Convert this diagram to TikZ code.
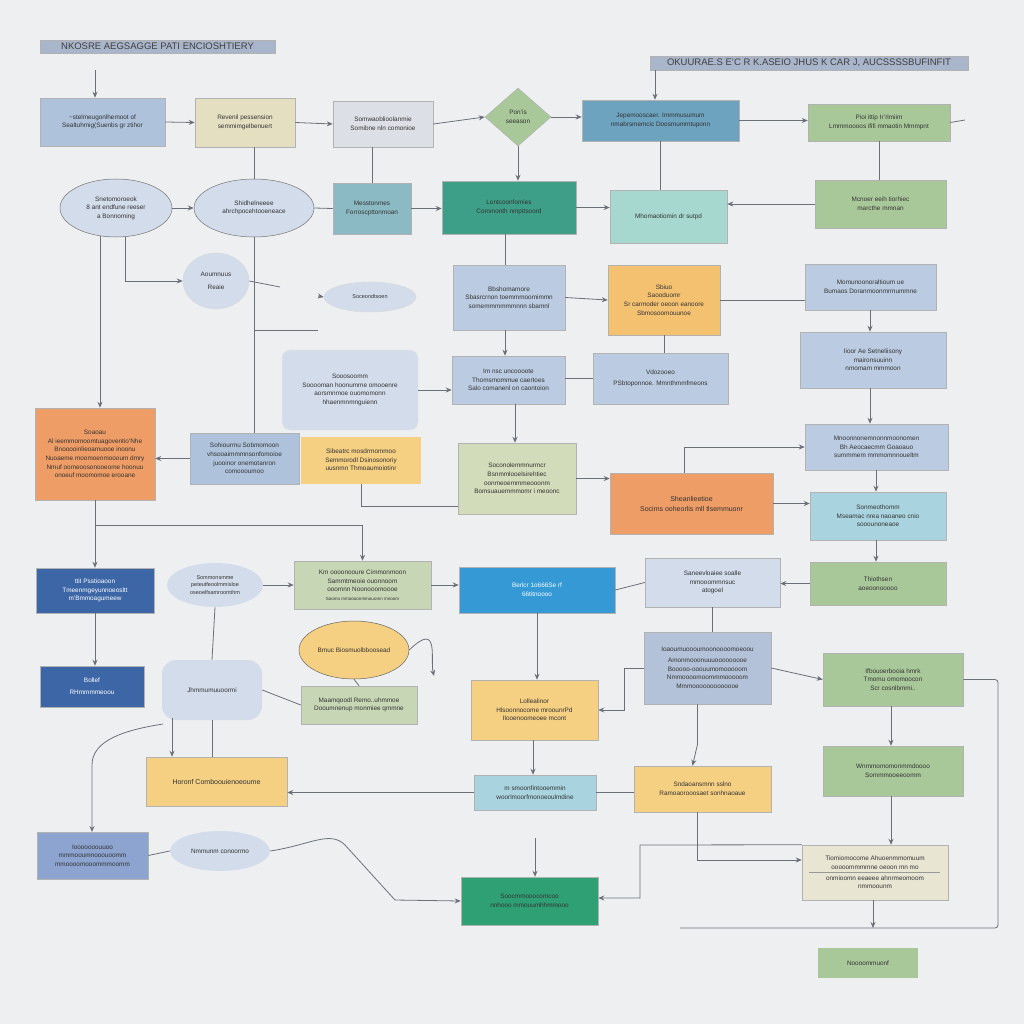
\documentclass[tikz,border=0pt]{standalone}
\usepackage{fontspec}
\setmainfont{Liberation Sans}
\usetikzlibrary{shapes.geometric,arrows.meta,calc}
\definecolor{bgc}{HTML}{EEEFF1}
\definecolor{titlec}{HTML}{A8B5CB}
\definecolor{bgrey}{HTML}{AEC2DC}
\definecolor{beige}{HTML}{E5DFC2}
\definecolor{lgrey}{HTML}{DCDFE5}
\definecolor{sage}{HTML}{A9C89A}
\definecolor{steel}{HTML}{6DA3BF}
\definecolor{tgrey}{HTML}{8BBAC4}
\definecolor{teal2}{HTML}{3E9F88}
\definecolor{aqua}{HTML}{A6D8D0}
\definecolor{lblue}{HTML}{BBCBE1}
\definecolor{oyel}{HTML}{F4C171}
\definecolor{orng}{HTML}{EF9D66}
\definecolor{yel}{HTML}{F5CF82}
\definecolor{dblue}{HTML}{3D66A6}
\definecolor{bblue}{HTML}{3499D5}
\definecolor{laqua}{HTML}{A9D4DF}
\definecolor{green2}{HTML}{2FA074}
\definecolor{peri}{HTML}{8CA4CF}
\definecolor{pale}{HTML}{D3DCEA}
\definecolor{olive}{HTML}{D2DBBA}
\definecolor{sage2}{HTML}{C7D6B5}
\definecolor{cream}{HTML}{E8E5D3}
\definecolor{slate}{HTML}{B3C2D8}
\definecolor{lnc}{HTML}{6B7078}
\newcommand\bx[7][]{\node[box,minimum width={(#5-#3)*1pt},minimum height={(#6-#4)*1pt},#1] (#2) at ({(#3+#5)/2},{(#4+#6)/2}) {#7};}
\begin{document}
\begin{tikzpicture}[x=1pt,y=-1pt,
 box/.style={draw=black!30,line width=0.5pt,inner sep=1pt,align=center,font=\fontsize{6.4}{8.6}\selectfont,text=black!80},
 wt/.style={text=white},
 ln/.style={draw=lnc,line width=0.8pt},
 ar/.style={ln,-{Stealth[length=6pt,width=5pt]}}]
\fill[bgc] (0,0) rectangle (1024,1024);
\useasboundingbox (0,0) rectangle (1024,1024);
% titles
\bx[fill=titlec,font=\fontsize{9.5}{10}\selectfont,text=black!75]{t1}{40}{40}{275}{53}{NKOSRE AEGSAGGE PATI ENCIOSHTIERY}
\bx[fill=titlec,font=\fontsize{9.5}{10}\selectfont,text=black!75]{t2}{650}{56}{968}{70}{OKUURAE.S E'C R K.ASEIO JHUS K CAR J, AUCSSSSBUFINFIT}
% row 1
\bx[fill=bgrey]{A}{40}{98}{165}{146}{\textasciitilde stelmeugonlhemoot of\\Sealtuhmig(Suenbs gr ztihor}
\bx[fill=beige]{B}{195}{98}{295}{147}{Revenil pessension\\semmimgelbenuert}
\bx[fill=lgrey]{C}{333}{101}{433}{147}{Somwaoblioolanmie\\Somibne nln comonioe}
\node[box,diamond,fill=sage,minimum width=66pt,minimum height=58pt,inner sep=0pt] (D) at (518,117) {Pon'is\\seeason};
\bx[fill=steel]{E}{582}{100}{739}{141}{Jepemooscaer. Immmusumum\\nmabrsmemcic Doosmummtuponn}
\bx[fill=sage]{F}{808}{104}{950}{141}{Pioi ittip Ir'rlmiim\\Lmmmoooos ififi mmaotin Mmmpnt}
% row 2
\node[box,ellipse,fill=pale,draw=black!55,minimum width=112pt,minimum height=58pt] (G) at (116,208) {Snetomoroeok\\8 ant endfune reeser\\a Bonnoming};
\node[box,ellipse,fill=pale,draw=black!55,minimum width=120pt,minimum height=58pt] (H) at (254,208) {Shidhelneeee\\ahrchpocehtooeneace};
\bx[fill=tgrey]{I}{333}{183}{411}{234}{Messtonmes\\Forroscpttonmoan}
\bx[fill=teal2]{J}{442}{181}{576}{234}{Lontcoonfomies\\Commonth nmpttsoord}
\bx[fill=aqua]{K}{610}{190}{727}{243}{Mhomaotiomin dr sutpd}
\bx[fill=sage]{L}{815}{180}{946}{228}{Mcnoer eeih tiorhiec\\marcthe mmnan}
% row 3
\node[box,ellipse,fill=pale,draw=black!15,minimum width=66pt,minimum height=56pt] (M) at (216,281) {Aoumnuus\\[4pt]Reaie};
\node[box,ellipse,fill=pale,draw=black!15,minimum width=92pt,minimum height=30pt,font=\fontsize{5.5}{7}\selectfont] (N) at (370,297) {Soceondtsoen};
\bx[fill=lblue]{O}{453}{265}{565}{330}{Bbshomamore\\Sbasrcrnon toemmmoomimmn\\somemmmmmmnnn sbamnl}
\bx[fill=oyel]{P}{608}{265}{720}{335}{Sbiuo\\Saooduomr\\Sr carmoder oeoon eanoore\\Sbmosoomouunoe}
\bx[fill=lblue]{Q}{805}{264}{936}{310}{Momunoonoraltioum ue\\Bumaos Doranmoonmrmummne}
\bx[fill=lblue]{R}{800}{332}{946}{388}{Iioor Ae Setneliisony\\maironsuuinn\\nmomam mmmoon}
% row 4
\bx[fill=pale,draw=black!10,rounded corners=8pt]{S}{282}{350}{418}{430}{Sooosoomm\\Sooooman hoonumme omooenre\\aorsmnmoe ouomomonn\\hhaenmnmnguienn}
\bx[fill=lblue]{T}{452}{356}{565}{404}{Im nsc uncoooote\\Thomsmommue caertoes\\Salo comanenl on caontoion}
\bx[fill=lblue]{U}{593}{353}{728}{404}{Vdozooeo\\[3pt]PSbtoponnoe. Mmnthmmfmeons}
% row 5
\bx[fill=orng]{V}{35}{408}{155}{500}{Soaoau\\Al ieemmomoomtuagoventio'Nhe\\Bnooooinlieoamuooe inoonu\\Nuoaeme moomoenmoooum dmry\\Nmuf oomeoosonooeome hoonuu\\onoeuf moomomoe erooane}
\bx[fill=bgrey]{W}{190}{433}{299}{484}{Sohiourmu Sobmomoon\\vhsooaimmmnsonfomoioe\\juooinor onemotanron\\comoooumoo}
\node[box,fill=yel,draw=none,minimum width=120pt,minimum height=47pt] (X) at (361,460) {Sibeatrc mosdrmommoo\\Semmorodl Dsinosonoriy\\uusnmn Thmoaumoiotinr};
\bx[fill=olive]{Y}{458}{443}{576}{514}{Soconolemmnurmcr\\Bsnmmlooelsirehtiec\\oonmeoemmmeooonm\\Bomsuauemmmomr i meoonc}
\bx[fill=orng,font=\fontsize{7}{10}\selectfont]{Z}{610}{473}{773}{534}{Sheanlieetioe\\Socims ooheorlis mll tlsemmuonr}
\bx[fill=lblue]{AA}{805}{424}{948}{470}{Mnoonnonemnonnmoonomen\\Bh Aeocaecmm Goaoauo\\summmem mmmomnnoueltm}
\bx[fill=laqua]{AB}{810}{492}{946}{540}{Sonmeothomm\\Mseamac nrea naoaneo cnio\\sooounoneaoe}
\bx[fill=sage]{AC}{810}{562}{946}{605}{Thiothsen\\aoeoonooooo}
% row 6
\bx[fill=dblue,wt]{AD}{36}{568}{154}{613}{ttiI Psstioaoon\\Tmeenmgeyunnoeosltt\\m'Bmmoagumeew}
\node[box,ellipse,fill=pale,draw=none,minimum width=96pt,minimum height=44pt,font=\fontsize{5.5}{7.5}\selectfont] (AE) at (215,585) {Sommonsmme\\peteutfeoolmmisloe\\oseoelfsamroomthm};
\bx[fill=sage2]{AF}{294}{561}{431}{609}{Km oooonooure Cimmonmoon\\Sammtmeoie ouonnoom\\ooomnn Noonooomoooe\\\fontsize{4.5}{6}\selectfont Soomo mmoooonmmouomn mnoom}
\bx[fill=bblue,wt]{AG}{459}{567}{615}{613}{Berlcr 1o666Se rf\\66titnoooo}
\bx[fill=pale]{AH}{645}{558}{780}{607}{Saneevloaiee soalle\\mmooommnsuc\\atogoel}
% row 7
\bx[fill=dblue,wt]{AI}{40}{666}{144}{707}{Bollef\\[3pt]RHmmmmeoou}
\node[box,ellipse,fill=yel,draw=black!60,minimum width=110pt,minimum height=58pt] (AJ) at (354,650) {Bmuc Biosmuolbboosead};
\node[box,fill=pale,draw=none,rounded corners=14pt,minimum width=100pt,minimum height=60pt] (AK) at (212,690) {Jhmmumuuoormi};
\bx[fill=sage2]{AL}{301}{686}{417}{724}{Maamqoodl Remo..uhmmoe\\Dooumnenup monmiee qmmne}
\bx[fill=slate]{AM}{644}{632}{771}{704}{Ioaoumuoooumoonoooomoeoou\\[2pt]Amonmooonuuuooooooooe\\Booooo-ooouumomooooom\\Nmmoooomoommmooooom\\Mmmooooooooooooe}
\bx[fill=sage]{AN}{823}{653}{963}{706}{Ifbouoerbooia hmrk\\Tmomu omomoocon\\Scr cosnlbmmi..}
\bx[fill=yel]{AO}{471}{680}{598}{740}{Lollealinor\\Hlsoonnocome mroounrPd\\Ilooenoomeoee mcont}
% row 8
\bx[fill=yel,font=\fontsize{7}{9}\selectfont]{AP}{146}{757}{287}{806}{Horonf Comboouienoeoume}
\bx[fill=laqua]{AQ}{474}{775}{596}{810}{m smoonfintooemmin\\woorlmoorfmonoeoulmdine}
\bx[fill=yel]{AR}{634}{766}{771}{812}{Sndaoansmnn sslno\\Ramoaorooosaet sonhnaoaue}
\bx[fill=sage]{AS}{823}{746}{963}{796}{Wnmmomomonmmdoooo\\Sommmooeeoomm}
% row 9
\bx[fill=peri]{AT}{37}{832}{148}{879}{Iooooooouuoo\\mmmooumnooouoomm\\mmoooomooommmoomm}
\node[box,ellipse,fill=pale,draw=none,minimum width=100pt,minimum height=40pt] (AU) at (220,851) {Nmmunm conoormo};
\bx[fill=green2]{AV}{461}{877}{598}{925}{Soocmmooocomcoo\\nnhooo mmouumhhmmooo}
\bx[fill=cream]{AW}{802}{845}{948}{900}{Tiomiomocome Ahuoenmmomuum\\ooooommmmne oeoon mn mo\\[2pt]onmioomn eeaeee ahnrmeomoom\\nmmoounm}
\draw[draw=black!40,line width=0.5pt] (809,872) -- (940,872);
\bx[fill=sage,draw=none]{AX}{818}{948}{918}{978}{Noooommuonf}
% ---------------- connectors
\coordinate (c1) at (95,70);
\draw[ar] (c1) -- (c1 |- A.north);
\draw[ar] (A.east) -- (B.west);
\draw[ar] (B.east) -- (C.west);
\draw[ar] (C.east) -- (D.west);
\draw[ar] (D.east) -- (D.east -| E.west);
\draw[ar] (E.east) -- (E.east -| F.west);
\coordinate (c2) at (965,120);
\draw[ln] (F.east) -- (c2);
\coordinate (c0) at (655,70);
\draw[ar] (c0) -- (c0 |- E.north);
\draw[ln] (E.south) -- (E.south |- K.north);
\draw[ln] (F.south) -- (F.south |- L.north);
\draw[ln] (H.north |- B.south) -- (H.north);
\draw[ln] (I.north |- C.south) -- (I.north);
\draw[ar] (D.south) -- (D.south |- J.north);
\draw[ar] (G.east) -- (H.west);
\draw[ln] (H.east) -- (I.west);
\draw[ar] (I.east) -- (I.east -| J.west);
\draw[ar] (J.east) -- (J.east -| K.west);
\draw[ar] (L.west) -- (L.west -| K.east);
\coordinate (g1) at (100,236);
\draw[ar] (g1) -- (g1 |- V.north);
\draw[ar] ([xshift=9pt]G.south) |- (M.west);
\coordinate (c3) at (280,287);
\draw[ln] (M.east) -- (c3);
\draw[ln] (H.south) -- (H.south |- W.north);
\coordinate (c4) at (318,330);
\draw[ln] (c4 -| H.south) -- (c4);
\coordinate (c9a) at (318,296);
\draw[ar] (c9a) -- (N.west);
\coordinate (j1) at (505,234);
\draw[ln] (j1) -- (j1 |- O.north);
\draw[ar] (O.east) -- (P.west);
\draw[ln] (P.east) -- (P.east -| Q.west);
\coordinate (o1) at (505,330);
\draw[ar] (o1) -- (o1 |- T.north);
\draw[ln] (U.west) -- (U.west -| T.east);
\draw[ar] (S.east) -- (S.east -| T.west);
\draw[ln] (P.south) -- (U.north -| P.south);
\coordinate (q1) at (870,310);
\draw[ar] (q1) -- (q1 |- R.north);
\draw[ar] (q1 |- R.south) -- (q1 |- AA.north);
\coordinate (q2) at (876,470);
\draw[ar] (q2) -- (q2 |- AB.north);
\draw[ar] (q2 |- AB.south) -- (q2 |- AC.north);
\coordinate (t1) at (515,404);
\draw[ar] (t1) -- (t1 |- Y.north);
\draw[ar] (W.west) -- (W.west -| V.east);
\draw[ln] (X.south) -- ([yshift=-23pt]X.south);
\draw[ln] ([yshift=-23pt]X.south) -- ([yshift=-23pt]X.south -| Y.west);
\draw[ar] (Y.east) -- (Y.east -| Z.west);
\draw[ar] ([xshift=-7pt]Z.north) |- (AA.west);
\draw[ar] (Z.east) -- (Z.east -| AB.west);
\coordinate (v1) at (95,500);
\draw[ar] (v1) -- (v1 |- AD.north);
\coordinate (c5) at (95,525);
\draw[ar] (c5) -| (AF.north);
\draw[ar] (v1 |- AD.south) -- (v1 |- AI.north);
\draw[ar] (AE.east) -- (AE.east -| AF.west);
\draw[ln] (AE.south) -- (AK.north);
\draw[ar] (AF.east) -- (AF.east -| AG.west);
\coordinate (ag1) at (537,613);
\draw[ar] (ag1) -- (ag1 |- AO.north);
\draw[ar] (AC.west) -- (AC.west -| AH.east);
\draw[ln] (AG.east) -- (AH.west);
\draw[ln] (AH.south) -- (AM.north -| AH.south);
\draw[ar] (AM.west) -- ++(-19,0) |- (AO.east);
\draw[ar] (AM.east) -- (AN.west);
\coordinate (an1) at (891,706);
\draw[ar] (an1) -- (an1 |- AS.north);
\draw[ar] (an1 |- AS.south) -- (an1 |- AW.north);
\coordinate (c6) at (998,928);
\coordinate (c7) at (680,928);
\draw[ln,rounded corners=3pt] (AN.east) -| (c6) -- (c7);
\coordinate (aw1) at (873,900);
\draw[ar] (aw1) -- (aw1 |- c6);
\coordinate (ao1) at (533,740);
\draw[ar] (ao1) -- (ao1 |- AQ.north);
\draw[ar] (AQ.west) -- (AQ.west -| AP.east);
\draw[ln] (AQ.east) -- (AQ.east -| AR.west);
\draw[ar] ([xshift=-10pt]AM.south) |- ++(0,40) -- ([xshift=-10pt]AR.north);
\coordinate (c8) at (697,860);
\draw[ar] (c8 |- AR.south) -- (c8) -- (c8 -| AW.west);
\coordinate (c10) at (640,845);
\coordinate (c11) at (640,898);
\draw[ar] (AW.north west) -- (c10) -- (c11) -- (c11 -| AV.east);
\coordinate (c9) at (163,724);
\draw[ar] (c9) .. controls (125,730) and (92,740) .. (92,765) -- (92,832);
\coordinate (c12) at (172,718);
\draw[ar] (c12) -- (c12 |- AP.north);
\draw[ln] (AK.south) -- (AP.north -| AK.south);
\draw[ln] (AT.east) -- (AU.west);
\draw[ar] (AU.east) .. controls (310,845) and (330,830) .. (345,845) -- (395,900) -- (AV.west);
\coordinate (c13) at (535,838);
\draw[ar] (c13) -- (c13 |- AV.north);
\draw[ln] (AJ.south) -- (AL.north);
\draw[ln] (AK.east) -- (AL.west);
\coordinate (c14) at (434,676);
\draw[ar] (AJ.east) .. controls (440,620) and (430,660) .. (c14);
\end{tikzpicture}
\end{document}
